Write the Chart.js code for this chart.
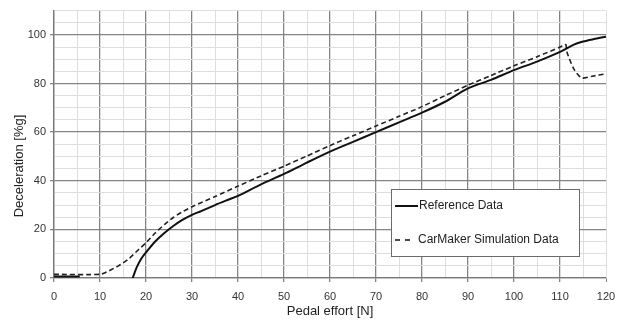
<!DOCTYPE html>
<html>
<head>
<meta charset="utf-8">
<script src="https://cdn.jsdelivr.net/npm/chart.js@4"></script>
<style>
  html, body { margin: 0; padding: 0; background: #ffffff; }
  #wrap { width: 618px; height: 320px; }
</style>
</head>
<body>
<div id="wrap"><canvas id="chart" width="618" height="320"></canvas></div>
<script>
// Reference Data (solid) - null breaks the line
const effortRef = [0, 5.6, 5.7, 17.1, 18, 19, 20, 22, 24, 26, 28, 30, 32, 35, 38, 40, 45, 50, 55, 60, 65, 70, 75, 80, 85, 90, 95, 100, 105, 110, 113, 115, 118, 120]
const decelRef  = [0.6, 0.6, null, 0, 4.5, 8, 10.5, 15, 18.5, 21.5, 24, 26, 27.5, 30, 32.3, 33.8, 38.5, 42.8, 47.5, 52, 56, 60, 64, 68, 72.5, 78, 81.5, 85.5, 89, 93, 96, 97.3, 98.5, 99.3]

// CarMaker Simulation Data (dashed)
const effortSim = [0, 10, 12, 14, 16, 18, 20, 22, 24, 26, 28, 30, 35, 40, 45, 50, 55, 60, 65, 70, 75, 80, 85, 90, 95, 100, 105, 110, 111, 111.3, 111.5, 113, 114.7, 117, 120]
const decelSim  = [1.5, 1.5, 3, 5, 7.5, 11, 14.5, 18.5, 22, 25, 27.3, 29.3, 33.5, 37.8, 42, 46, 50.2, 54.5, 58.5, 62.5, 66.5, 70.5, 75, 79.3, 83.3, 87.3, 91, 95, 96, 96, 93, 86, 82.3, 83, 84]

const seriesNames = ["Reference Data", "CarMaker Simulation Data"]
const xTitle = "Pedal effort [N]"
const yTitle = "Deceleration [%g]"

const toPoints = (xs, ys) => xs.map((x, i) => ({ x: x, y: ys[i] }))

const majorGrid = '#858585'
const minorGrid = '#dedede'
const tickFont = { family: 'Liberation Sans, Arial, sans-serif', size: 11 }

// draws the axis titles and the boxed legend inside the plot
const overlay = {
    id: 'overlay',
    afterDraw(chart) {
        const ctx = chart.ctx
        const area = chart.chartArea
        ctx.save()
        ctx.fillStyle = '#222'
        ctx.font = '13px Liberation Sans, Arial, sans-serif'
        ctx.textAlign = 'center'
        ctx.textBaseline = 'middle'
        ctx.fillText(xTitle, (area.left + area.right) / 2, 311)
        ctx.translate(19, 166)
        ctx.rotate(-Math.PI / 2)
        ctx.fillText(yTitle, 0, 0)
        ctx.restore()

        // legend box
        ctx.save()
        ctx.fillStyle = '#ffffff'
        ctx.fillRect(391, 189.5, 189, 67)
        ctx.strokeStyle = '#6a6a6a'
        ctx.lineWidth = 1
        ctx.strokeRect(391.5, 189.5, 188, 67)
        ctx.strokeStyle = '#111'
        ctx.lineWidth = 2
        ctx.beginPath()
        ctx.moveTo(395, 206)
        ctx.lineTo(418, 206)
        ctx.stroke()
        ctx.lineWidth = 1.5
        ctx.setLineDash([5, 5])
        ctx.beginPath()
        ctx.moveTo(395, 240)
        ctx.lineTo(411, 240)
        ctx.stroke()
        ctx.setLineDash([])
        ctx.fillStyle = '#222'
        ctx.font = '12px Liberation Sans, Arial, sans-serif'
        ctx.textAlign = 'left'
        ctx.textBaseline = 'middle'
        ctx.fillText(seriesNames[0], 419, 206)
        ctx.fillText(seriesNames[1], 418, 240)
        ctx.restore()
    }
}

const data = {
    datasets: [
        {
            label: seriesNames[0],
            data: toPoints(effortRef, decelRef),
            borderColor: '#111111',
            borderWidth: 2,
            pointRadius: 0,
            tension: 0.3,
            spanGaps: false
        },
        {
            label: seriesNames[1],
            data: toPoints(effortSim, decelSim),
            borderColor: '#222222',
            borderWidth: 1.6,
            borderDash: [5, 3],
            pointRadius: 0,
            tension: 0.2
        }
    ]
}

const config = {
    type: 'line',
    data: data,
    options: {
        responsive: false,
        animation: false,
        layout: { padding: { top: 10, right: 12, left: 0, bottom: 0 } },
        scales: {
            x: {
                type: 'linear',
                min: 0,
                max: 120,
                afterFit: scale => {
                    scale.height = 42
                    scale.paddingLeft = 0
                    scale.paddingRight = 0
                },
                ticks: {
                    stepSize: 5,
                    autoSkip: false,
                    maxRotation: 0,
                    padding: 8,
                    color: '#333',
                    font: tickFont,
                    callback: v => (v % 10 === 0 ? v : '')
                },
                grid: {
                    color: c => (c.tick && c.tick.value % 10 === 0 && c.tick.value !== 120 ? majorGrid : minorGrid),
                    lineWidth: c => (c.tick && c.tick.value % 10 === 0 && c.tick.value !== 120 ? 1.3 : 1),
                    tickLength: 4,
                    tickColor: c => (c.tick && c.tick.value % 10 === 0 ? majorGrid : 'rgba(0,0,0,0)')
                },
                border: { color: '#777', width: 1.3 }
            },
            y: {
                min: 0,
                max: 110,
                afterFit: scale => { scale.width = 54 },
                ticks: {
                    stepSize: 5,
                    autoSkip: false,
                    padding: 4,
                    color: '#333',
                    font: tickFont,
                    callback: v => (v % 20 === 0 ? v : '')
                },
                grid: {
                    color: c => (c.tick && c.tick.value % 20 === 0 ? majorGrid : minorGrid),
                    lineWidth: c => (c.tick && c.tick.value % 20 === 0 ? 1.3 : 1),
                    tickLength: 4,
                    tickColor: c => (c.tick && c.tick.value % 20 === 0 ? majorGrid : 'rgba(0,0,0,0)')
                },
                border: { color: '#777', width: 1.3 }
            }
        },
        plugins: {
            legend: { display: false },
            tooltip: { enabled: false }
        }
    },
    plugins: [overlay]
}

const myChart = new Chart(document.getElementById('chart'), config)
</script>
</body>
</html>
